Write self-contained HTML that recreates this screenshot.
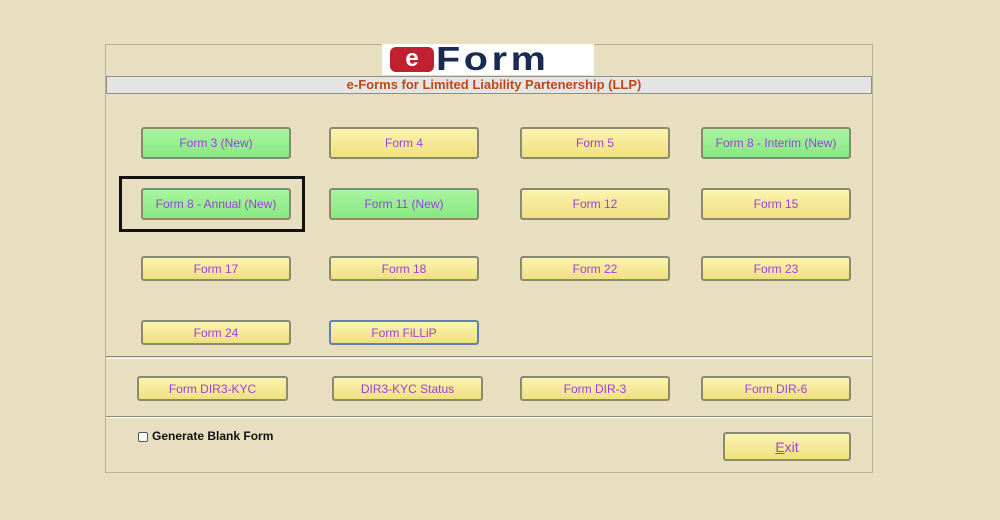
<!DOCTYPE html>
<html><head><style>
body{margin:0;width:1000px;height:520px;background:#e8dfc0;position:relative;overflow:hidden;font-family:"Liberation Sans",sans-serif}
.a{position:absolute;box-sizing:border-box}
.b{position:absolute;box-sizing:border-box;border:2px solid #8a8a70;border-radius:3px;color:#9a40e0;font-size:12px;display:flex;align-items:center;justify-content:center;background:linear-gradient(#fbf3b0,#f0e080)}
.g{background:linear-gradient(#a8f5a0,#88e880)}
</style></head><body>
<div class="a" style="left:105px;top:44px;width:768px;height:429px;border:1px solid #b8b090"></div>
<div class="a" style="left:382px;top:44px;width:212px;height:31px;background:#fff"></div>
<div class="a" style="left:390px;top:47px;width:44px;height:25px;background:#c02030;border-radius:6px;color:#fff;font-weight:bold;font-size:24px;line-height:24px;text-align:center">e</div>
<div class="a" style="left:436px;top:40px;font-weight:bold;font-size:33px;color:#1a2a50;letter-spacing:3px;transform:scaleX(1.2);transform-origin:left">Form</div>
<div class="a" style="left:106px;top:76px;width:766px;height:18px;background:#e4e4e4;border:1px solid #909080;color:#c04818;font-weight:bold;font-size:13px;text-align:center;line-height:16px;padding-left:10px">e-Forms for Limited Liability Partenership (LLP)</div>

<div class="b g" style="left:141px;top:127px;width:150px;height:32px">Form 3 (New)</div>
<div class="b" style="left:329px;top:127px;width:150px;height:32px">Form 4</div>
<div class="b" style="left:520px;top:127px;width:150px;height:32px">Form 5</div>
<div class="b g" style="left:701px;top:127px;width:150px;height:32px">Form 8 - Interim (New)</div>

<div class="a" style="left:119px;top:176px;width:186px;height:56px;border:3px solid #111"></div>
<div class="b g" style="left:141px;top:188px;width:150px;height:32px">Form 8 - Annual (New)</div>
<div class="b g" style="left:329px;top:188px;width:150px;height:32px">Form 11 (New)</div>
<div class="b" style="left:520px;top:188px;width:150px;height:32px">Form 12</div>
<div class="b" style="left:701px;top:188px;width:150px;height:32px">Form 15</div>

<div class="b" style="left:141px;top:256px;width:150px;height:25px">Form 17</div>
<div class="b" style="left:329px;top:256px;width:150px;height:25px">Form 18</div>
<div class="b" style="left:520px;top:256px;width:150px;height:25px">Form 22</div>
<div class="b" style="left:701px;top:256px;width:150px;height:25px">Form 23</div>

<div class="b" style="left:141px;top:320px;width:150px;height:25px">Form 24</div>
<div class="b" style="left:329px;top:320px;width:150px;height:25px;border-color:#6080b0">Form FiLLiP</div>

<div class="a" style="left:106px;top:356px;width:766px;height:3px;border-top:1px solid #8a8a70;border-bottom:1px solid #fff"></div>

<div class="b" style="left:137px;top:376px;width:151px;height:25px">Form DIR3-KYC</div>
<div class="b" style="left:332px;top:376px;width:151px;height:25px">DIR3-KYC Status</div>
<div class="b" style="left:520px;top:376px;width:150px;height:25px">Form DIR-3</div>
<div class="b" style="left:701px;top:376px;width:150px;height:25px">Form DIR-6</div>

<div class="a" style="left:106px;top:416px;width:766px;height:2px;border-top:1px solid #8a8a70;border-bottom:1px solid #fff"></div>

<div class="a" style="left:138px;top:432px;width:10px;height:10px;border:1px solid #555;background:#fff;border-radius:2px"></div>
<div class="a" style="left:152px;top:429px;font-size:12px;font-weight:bold;color:#111">Generate Blank Form</div>
<div class="b" style="left:723px;top:432px;width:128px;height:29px;font-size:14px"><u>E</u>xit</div>
</body></html>
